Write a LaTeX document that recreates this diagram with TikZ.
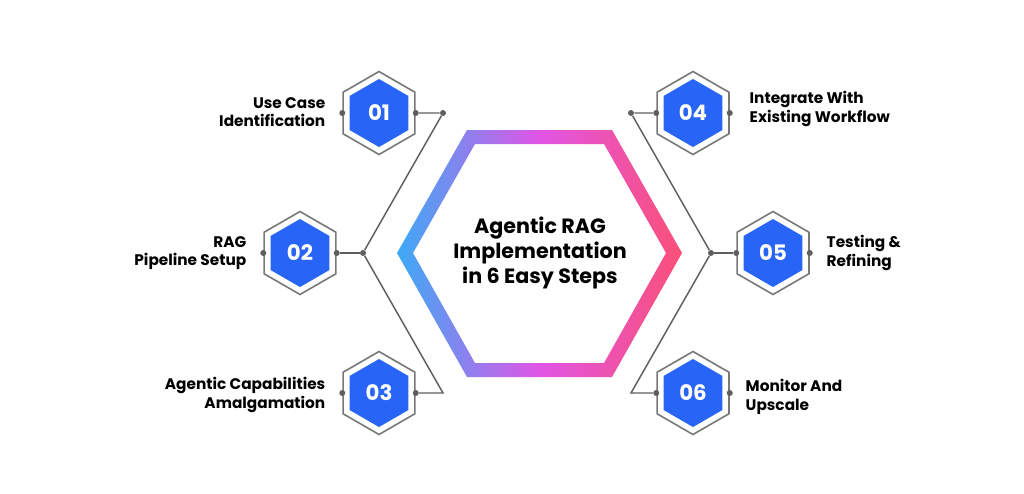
\documentclass[tikz,border=0pt]{standalone}
\usepackage{fontspec}
\setmainfont{Poppins}
\usetikzlibrary{shapes.geometric,positioning}
\definecolor{stepblue}{RGB}{40,100,245}
\definecolor{linegray}{RGB}{95,95,95}
\definecolor{ringgray}{RGB}{120,120,120}
\tikzset{
    step outer/.style = {
        regular polygon, regular polygon sides=6, shape border rotate=30,
        minimum size=83*0.75pt, draw=ringgray, line width=1.2pt, fill=white, inner sep=0pt,
        },
    step inner/.style = {
        regular polygon, regular polygon sides=6, shape border rotate=30,
        minimum size=68*0.75pt, fill=stepblue, text=white, inner sep=0pt,
        font=\fontsize{16}{16}\selectfont\bfseries,
        },
    dot/.style = {
        circle, fill=linegray, minimum size=4.5pt, inner sep=0pt,
        },
    link/.style = {
        draw=linegray, line width=1.1pt,
        },
    label left/.style = {
        align=right, anchor=east, font=\fontsize{11.5}{14}\selectfont\bfseries,
        },
    label right/.style = {
        align=left, anchor=west, font=\fontsize{11.5}{14}\selectfont\bfseries,
        },
}
\begin{document}
\begin{tikzpicture}[x=0.75pt,y=-0.75pt]
    \useasboundingbox (0,0) rectangle (1024,493);

    % centre hexagon
    \shade[left color={rgb,255:red,60;green,170;blue,245}, right color={rgb,255:red,250;green,80;blue,120},
        middle color={rgb,255:red,225;green,85;blue,230}, even odd rule]
        (397,253) -- (467,130) -- (612,130) -- (682,253) -- (612,377) -- (467,377) -- cycle
        (413,253) -- (475,144) -- (604,144) -- (666,253) -- (604,363) -- (475,363) -- cycle;
    \node[align=center, font=\fontsize{15.5}{19}\selectfont\bfseries] (title) at (540,253)
        {Agentic RAG\\Implementation\\in 6 Easy Steps};

    % steps
    \foreach \n/\x/\y in {01/379/113, 02/300/253, 03/379/393, 04/693/113, 05/773/253, 06/693/393}{
        \node[step outer] (o\n) at (\x,\y) {};
        \node[step inner] (s\n) at (\x,\y) {\n};
        \node[dot] (l\n) at (o\n.west) {};
        \node[dot] (r\n) at (o\n.east) {};
    }

    \node[label left] (t01) at (330,112) {Use Case\\Identification};
    \node[label left] (t02) at (251,253) {RAG\\Pipeline Setup};
    \node[label left] (t03) at (330,395) {Agentic Capabilities\\Amalgamation};
    \node[label right] (t04) at (745,109) {Integrate With\\Existing Workflow};
    \node[label right] (t05) at (822,253) {Testing \&\\Refining};
    \node[label right] (t06) at (741,397) {Monitor And\\Upscale};

    % connectors
    \node[dot] (a1) at (443,113) {};
    \node[dot] (a2) at (363,253) {};
    \coordinate (a3) at (443,393);
    \node[dot] (b4) at (631,113) {};
    \node[dot] (b5) at (711,253) {};
    \coordinate (b6) at (631,393);

    \draw[link] (r01) -- (a1) -- (a2) -- (a3) -- (r03);
    \draw[link] (a2) -- (r02);
    \draw[link] (l04) -- (b4) -- (b5) -- (b6) -- (l06);
    \draw[link] (b5) -- (l05);
\end{tikzpicture}
\end{document}
